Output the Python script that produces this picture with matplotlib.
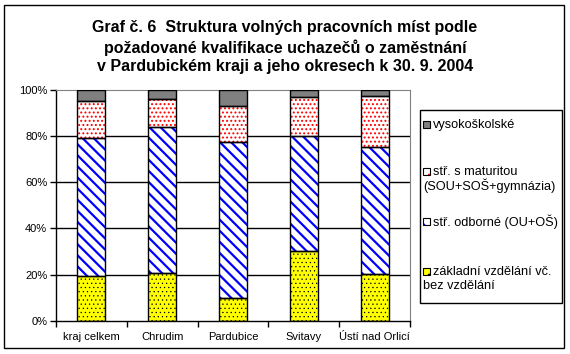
import matplotlib.pyplot as plt
import numpy as np
from matplotlib.patches import Rectangle

plt.rcParams['font.family'] = ['Liberation Sans', 'DejaVu Sans']

regions = ["kraj celkem", "Chrudim", "Pardubice", "Svitavy", "Ústí nad Orlicí"]
zakladni = [19.2, 20.5, 9.7, 30.1, 20.1]
odborne = [59.9, 63.3, 67.6, 49.8, 55.2]
maturita = [16.3, 12.2, 15.6, 17.0, 22.1]
vysoke = [4.6, 4.0, 7.1, 3.1, 2.6]

labels = ["základní vzdělání vč.\nbez vzdělání",
          "stř. odborné (OU+OŠ)",
          "stř. s maturitou\n(SOU+SOŠ+gymnázia)",
          "vysokoškolské"]

# (face, hatch, hatch colour, hatch linewidth, legend hatch)
styles = [("#ffff00", "....", "black", 0.4, ".."),
          ("white", "\\\\\\", "#0000ff", 1.6, "\\"),
          ("white", "....", "#ff0000", 0.9, ".."),
          ("#808080", None, None, 1.0, None)]

W, H = 570, 354
fig = plt.figure(figsize=(W / 100, H / 100), dpi=100)
ax = fig.add_axes([55.7 / W, 33.3 / H, (410.3 - 55.7) / W, (320.7 - 90) / H])

x = np.arange(len(regions))
w = 0.4
bottom = np.zeros(len(regions))
for vals, (fc, h, hc, lw, _) in zip([zakladni, odborne, maturita, vysoke], styles):
    with plt.rc_context({'hatch.linewidth': lw}):
        if h:
            ax.bar(x, vals, w, bottom=bottom, color=fc, hatch=h, edgecolor=hc, linewidth=0, zorder=2)
        else:
            ax.bar(x, vals, w, bottom=bottom, color=fc, linewidth=0, zorder=2)
        ax.bar(x, vals, w, bottom=bottom, fill=False, edgecolor="black", linewidth=1, zorder=3)
    bottom += np.array(vals)

ax.set_xlim(-0.5, len(regions) - 0.5)
ax.set_ylim(0, 100)
ax.set_yticks(np.arange(0, 101, 20))
ax.set_yticklabels([f"{v}%" for v in range(0, 101, 20)], fontsize=8)
ax.set_xticks(x)
ax.set_xticklabels(regions, fontsize=8)
ax.tick_params(axis='x', which='major', length=0, pad=8)
ax.set_xticks(np.arange(-0.5, len(regions), 1), minor=True)
ax.tick_params(axis='x', which='minor', length=4, width=1, direction='out')
ax.tick_params(axis='y', length=4, width=1, direction='out', pad=2)
for v in range(20, 100, 20):
    ax.axhline(v, color="black", linewidth=1, zorder=1)
ax.spines['top'].set_color("#808080")
ax.spines['right'].set_color("#808080")
ax.spines['left'].set_linewidth(1)
ax.spines['bottom'].set_linewidth(1)

# legend box drawn by hand (pixel layout, y from top)
fig.patches.append(Rectangle((420 / W, (H - 303) / H), (562 - 420) / W, (303 - 110) / H,
                             transform=fig.transFigure, facecolor="white",
                             edgecolor="black", linewidth=1))
leg_y = [125, 171.7, 221.7, 271.7]
for yy, lab, (fc, h, hc, lw, lh) in zip(leg_y, labels[::-1], styles[::-1]):
    with plt.rc_context({'hatch.linewidth': 0.8}):
        fig.patches.append(Rectangle((423 / W, (H - yy - 3.5) / H), 7 / W, 7 / H,
                                     transform=fig.transFigure, facecolor=fc, hatch=lh,
                                     edgecolor=hc if h else "black", linewidth=0))
    fig.patches.append(Rectangle((423 / W, (H - yy - 3.5) / H), 7 / W, 7 / H,
                                 transform=fig.transFigure, fill=False,
                                 edgecolor="black", linewidth=0.8))
    lines = lab.split("\n")
    fig.text(433 / W, (H - yy) / H, lines[0], ha="left", va="center", fontsize=9.2)
    for k, extra in enumerate(lines[1:], 1):
        fig.text(423 / W, (H - yy - 14 * k) / H, extra, ha="left", va="center", fontsize=9.2)

fig.text(0.5, (H - 47) / H,
         "Graf č. 6  Struktura volných pracovních míst podle\n"
         "požadované kvalifikace uchazečů o zaměstnání\n"
         "v Pardubickém kraji a jeho okresech k 30. 9. 2004",
         ha="center", va="center", fontsize=11.5, fontweight="bold", linespacing=1.3)

fig.patches.append(Rectangle((4 / W, 6 / H), 560 / W, 343 / H,
                             transform=fig.transFigure, fill=False,
                             edgecolor="black", linewidth=1))

fig.savefig("out.png", dpi=100)
